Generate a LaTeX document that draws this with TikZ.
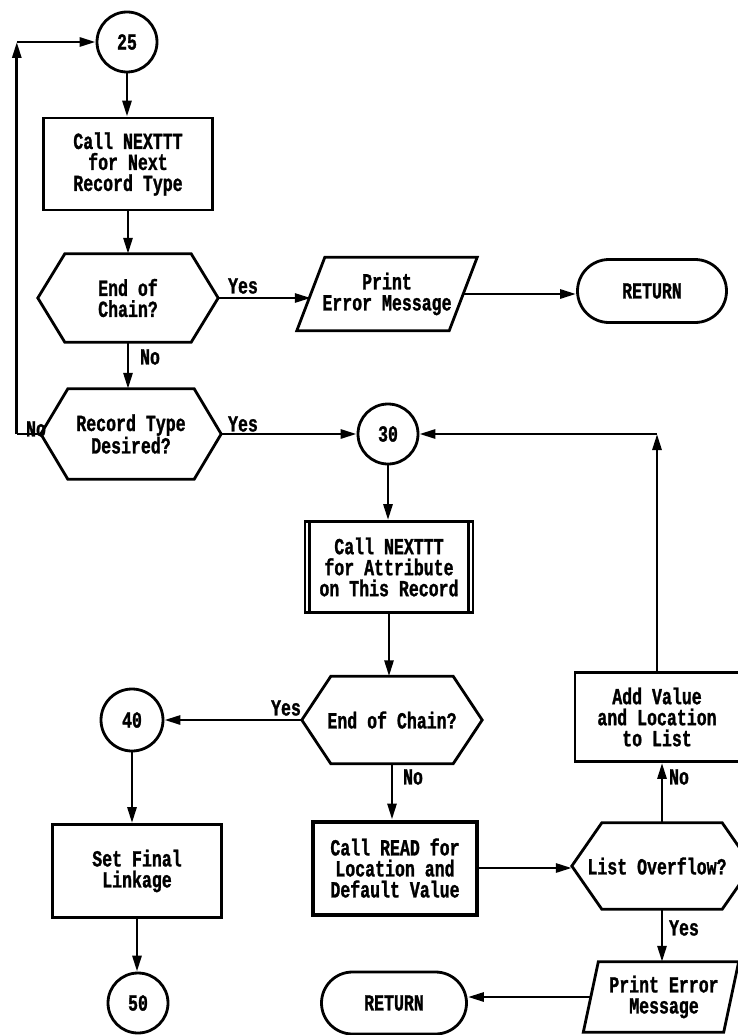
\documentclass[tikz,border=0pt]{standalone}
\usepackage{fontspec}
\newfontfamily\flowfont{Liberation Mono}[FakeStretch=0.72,FakeBold=1.2]
\usetikzlibrary{arrows.meta,calc,shapes.misc}
\newcommand\hexdraw[2]{%
  \draw[shp] ($(#1.north west)+(#2,0)$) -- ($(#1.north east)+(-#2,0)$) -- (#1.east)
    -- ($(#1.south east)+(-#2,0)$) -- ($(#1.south west)+(#2,0)$) -- (#1.west) -- cycle;}
\newcommand\pgramdraw[2]{%
  \draw[shp] ($(#1.north west)+(#2,0)$) -- (#1.north east) -- ($(#1.south east)+(-#2,0)$)
    -- (#1.south west) -- cycle;
  \coordinate (#1-l) at ($(#1.west)+({#2/2},0)$);
  \coordinate (#1-r) at ($(#1.east)+({-#2/2},0)$);}
\begin{document}
\begin{tikzpicture}[x=1pt,y=-1pt,
  every node/.style={font=\flowfont\bfseries\fontsize{23}{21}\selectfont,align=center,inner sep=0pt},
  shp/.style={line width=2.8pt,line join=miter},
  conn/.style={line width=2.8pt,-{Triangle[length=16pt,width=9pt]}},
  plainln/.style={line width=2.8pt},
  boxn/.style 2 args={draw,shp,minimum width=#1,minimum height=#2},
  areg/.style 2 args={minimum width=#1,minimum height=#2},
  circ/.style={draw,circle,shp,minimum size=#1},
  term/.style 2 args={draw,shp,rounded rectangle,minimum width=#1,minimum height=#2}]
\useasboundingbox (0,0) rectangle (738,1035);
% nodes
\node[circ=60pt] (c25) at (127,42) {25};
\node[boxn={169pt}{92pt}] (b1) at (128,164) {Call NEXTTT\\for Next\\Record Type};
\node[areg={180pt}{88pt}] (h1) at (128,298) {End of\\Chain?};
\hexdraw{h1}{27}
\node[areg={180pt}{73pt}] (p1) at (387,294) {Print\\Error Message};
\pgramdraw{p1}{28}
\node[term={149pt}{63pt}] (r1) at (652,291) {RETURN};
\node[areg={180pt}{90pt}] (h2) at (131,434) {Record Type\\Desired?};
\hexdraw{h2}{27}
\node[circ=60pt] (c30) at (388,434) {30};
\node[boxn={168pt}{91pt}] (b2) at (389,567) {Call NEXTTT\\for Attribute\\on This Record};
\draw[shp] ([xshift=6pt]b2.north west) -- ([xshift=6pt]b2.south west);
\draw[shp] ([xshift=-6pt]b2.north east) -- ([xshift=-6pt]b2.south east);
\node[areg={180pt}{87pt}] (h3) at (392,720) {End of Chain?};
\hexdraw{h3}{29}
\node[circ=62pt] (c40) at (132,720) {40};
\node[boxn={169pt}{93pt}] (b4) at (137,871) {Set Final\\Linkage};
\node[circ=60pt] (c50) at (138,1003) {50};
\node[boxn={164pt}{93pt},line width=4pt] (b3) at (395,868) {Call READ for\\Location and\\Default Value};
\node[areg={180pt}{86pt}] (h4) at (662,866) {};
\node (h4t) at (657,866) {List Overflow?};
\hexdraw{h4}{30}
\node[boxn={164pt}{89pt}] (b5) at (657,717) {Add Value\\and Location\\to List};
\node[areg={155pt}{70pt}] (p2) at (661,997) {};
\node (p2t) at (664,997) {Print Error\\Message};
\pgramdraw{p2}{15}
\node[term={145pt}{62pt}] (r2) at (394,1003) {RETURN};
% labels
\node (t1) at (243,286) {Yes};
\node (t2) at (150,357) {No};
\node (t3) at (36,429) {No};
\node (t4) at (243,424) {Yes};
\node (t5) at (286,708) {Yes};
\node (t6) at (413,777) {No};
\node (t7) at (679,777) {No};
\node (t8) at (684,928) {Yes};
% connectors
\draw[conn] (c25.south) -- (c25.south |- b1.north);
\draw[conn] (b1.south) -- (b1.south |- h1.north);
\draw[conn] (h1.east) -- (h1.east -| p1-l);
\draw[conn] (p1-r) -- (p1-r -| r1.west);
\draw[conn] (h1.south) -- (h1.south |- h2.north);
\coordinate (k1) at ([xshift=-24pt]h2.west);
\coordinate (k2) at (k1 |- c25.west);
\draw[plainln] (h2.west) -- (k1);
\draw[conn] (k1) -- (k2);
\draw[conn] (k2) -- (c25.west);
\draw[conn] (h2.east) -- (c30.west);
\draw[conn] (c30.south) -- (c30.south |- b2.north);
\draw[conn] (b2.south) -- (b2.south |- h3.north);
\draw[conn] (h3.west) -- (c40.east);
\draw[conn] (c40.south) -- (c40.south |- b4.north);
\draw[conn] (b4.south) -- (b4.south |- c50.north);
\draw[conn] (h3.south) -- (h3.south |- b3.north);
\draw[conn] (b3.east) -- (b3.east -| h4.west);
\draw[conn] (h4.north) -- (h4.north |- b5.south);
\coordinate (k3) at (b5.north |- c30.east);
\draw[conn] (b5.north) -- (k3);
\draw[conn] (k3) -- (c30.east);
\draw[conn] (h4.south) -- (h4.south |- p2.north);
\draw[conn] (p2-l) -- (p2-l -| r2.east);
\end{tikzpicture}
\end{document}
